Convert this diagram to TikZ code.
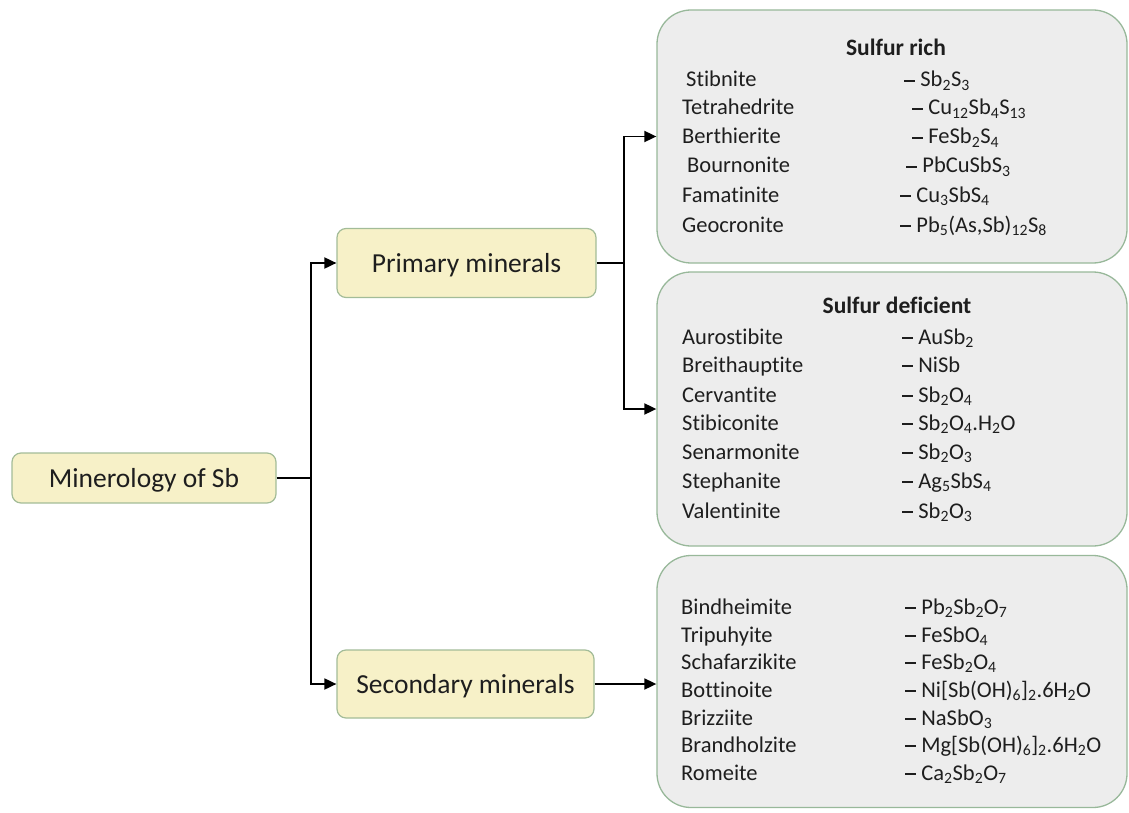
\documentclass[tikz,border=0pt]{standalone}
\usepackage{fontspec}
\setmainfont{Carlito}[Ligatures={NoCommon}]
\usetikzlibrary{arrows.meta}
\newcommand\sbs[1]{\textsubscript{#1}}
\newcommand\dsh{\rule[0.24em]{0.5em}{0.07em}\hspace{0.22em}}
\definecolor{yel}{HTML}{F7F1C8}
\definecolor{boxline}{HTML}{A3BC98}
\definecolor{grpfill}{HTML}{EDEDED}
\definecolor{grpline}{HTML}{98B89A}
\definecolor{txt}{HTML}{1E1E1E}
\begin{document}
\begin{tikzpicture}[x=1pt,y=-1pt,
  lbl/.style={draw=boxline, fill=yel, rounded corners=9pt, line width=1.2pt,
    font=\fontsize{27.5}{30}\selectfont, text=txt, inner sep=0pt, text depth=0pt},
  grp/.style={draw=grpline, fill=grpfill, rounded corners=34pt, line width=1.3pt, inner sep=0pt},
  item/.style={anchor=base west, font=\fontsize{22.5}{26}\selectfont, text=txt, inner sep=0pt},
  hdr/.style={anchor=base, font=\fontsize{23.5}{26}\selectfont\bfseries, text=txt, inner sep=0pt},
  conn/.style={line width=1.8pt, black},
  arr/.style={conn, -{Triangle[length=12pt,width=11pt]}}
]
\useasboundingbox (0,0) rectangle (1129,813);

% category boxes
\node[lbl, minimum width=264pt, minimum height=50pt] (root) at (144,478) {Minerology of Sb};
\node[lbl, minimum width=259pt, minimum height=69pt] (prim) at (466.5,263) {Primary minerals};
\node[lbl, minimum width=257pt, minimum height=68pt] (sec) at (465.5,684) {Secondary minerals};

% group boxes
\node[grp, minimum width=470pt, minimum height=253pt] (rich) at (892,136.5) {};
\node[grp, minimum width=470pt, minimum height=274pt] (def) at (892,409) {};
\node[grp, minimum width=470pt, minimum height=252pt] (seclist) at (892,681.5) {};

% connectors
\coordinate (j1) at (311,478);
\coordinate (j2) at (624,263);
\draw[conn] (root.east) -- (j1);
\draw[arr] (j1) |- (prim.west);
\draw[arr] (j1) |- (sec.west);
\draw[conn] (prim.east) -- (j2);
\draw[arr] (j2) |- (rich.west);
\draw[arr] (j2) |- (def.west);
\draw[arr] (sec.east) -- (sec.east -| seclist.west);

% Sulfur rich
\node[hdr] (h1) at (896,56) {Sulfur rich};
\node[item] (r1a) at (686,87) {Stibnite};
\node[item] (r1b) at (904,87) {\dsh Sb\sbs{2}S\sbs{3}};
\node[item] (r2a) at (682,115) {Tetrahedrite};
\node[item] (r2b) at (912,115) {\dsh Cu\sbs{12}Sb\sbs{4}S\sbs{13}};
\node[item] (r3a) at (682,144) {Berthierite};
\node[item] (r3b) at (912,144) {\dsh FeSb\sbs{2}S\sbs{4}};
\node[item] (r4a) at (687,173) {Bournonite};
\node[item] (r4b) at (906,173) {\dsh PbCuSbS\sbs{3}};
\node[item] (r5a) at (682,202) {Famatinite};
\node[item] (r5b) at (900,202) {\dsh Cu\sbs{3}SbS\sbs{4}};
\node[item] (r6a) at (682,232) {Geocronite};
\node[item] (r6b) at (900,232) {\dsh Pb\sbs{5}(As,Sb)\sbs{12}S\sbs{8}};

% Sulfur deficient
\node[hdr] (h2) at (897,313) {Sulfur deficient};
\node[item] (d1a) at (682,344) {Aurostibite};
\node[item] (d1b) at (902,344) {\dsh AuSb\sbs{2}};
\node[item] (d2a) at (682,372) {Breithauptite};
\node[item] (d2b) at (902,372) {\dsh NiSb};
\node[item] (d3a) at (682,402) {Cervantite};
\node[item] (d3b) at (902,402) {\dsh Sb\sbs{2}O\sbs{4}};
\node[item] (d4a) at (682,430) {Stibiconite};
\node[item] (d4b) at (902,430) {\dsh Sb\sbs{2}O\sbs{4}.H\sbs{2}O};
\node[item] (d5a) at (682,459) {Senarmonite};
\node[item] (d5b) at (902,459) {\dsh Sb\sbs{2}O\sbs{3}};
\node[item] (d6a) at (682,488) {Stephanite};
\node[item] (d6b) at (902,488) {\dsh Ag\sbs{5}SbS\sbs{4}};
\node[item] (d7a) at (682,518) {Valentinite};
\node[item] (d7b) at (902,518) {\dsh Sb\sbs{2}O\sbs{3}};

% Secondary
\node[item] (s1a) at (681,614) {Bindheimite};
\node[item] (s1b) at (905,614) {\dsh Pb\sbs{2}Sb\sbs{2}O\sbs{7}};
\node[item] (s2a) at (681,642) {Tripuhyite};
\node[item] (s2b) at (905,642) {\dsh FeSbO\sbs{4}};
\node[item] (s3a) at (681,669) {Schafarzikite};
\node[item] (s3b) at (905,669) {\dsh FeSb\sbs{2}O\sbs{4}};
\node[item] (s4a) at (681,697) {Bottinoite};
\node[item] (s4b) at (905,697) {\dsh Ni[Sb(OH)\sbs{6}]\sbs{2}.6H\sbs{2}O};
\node[item] (s5a) at (681,725) {Brizziite};
\node[item] (s5b) at (905,725) {\dsh NaSbO\sbs{3}};
\node[item] (s6a) at (681,752) {Brandholzite};
\node[item] (s6b) at (905,752) {\dsh Mg[Sb(OH)\sbs{6}]\sbs{2}.6H\sbs{2}O};
\node[item] (s7a) at (681,780) {Romeite};
\node[item] (s7b) at (905,780) {\dsh Ca\sbs{2}Sb\sbs{2}O\sbs{7}};
\end{tikzpicture}
\end{document}
